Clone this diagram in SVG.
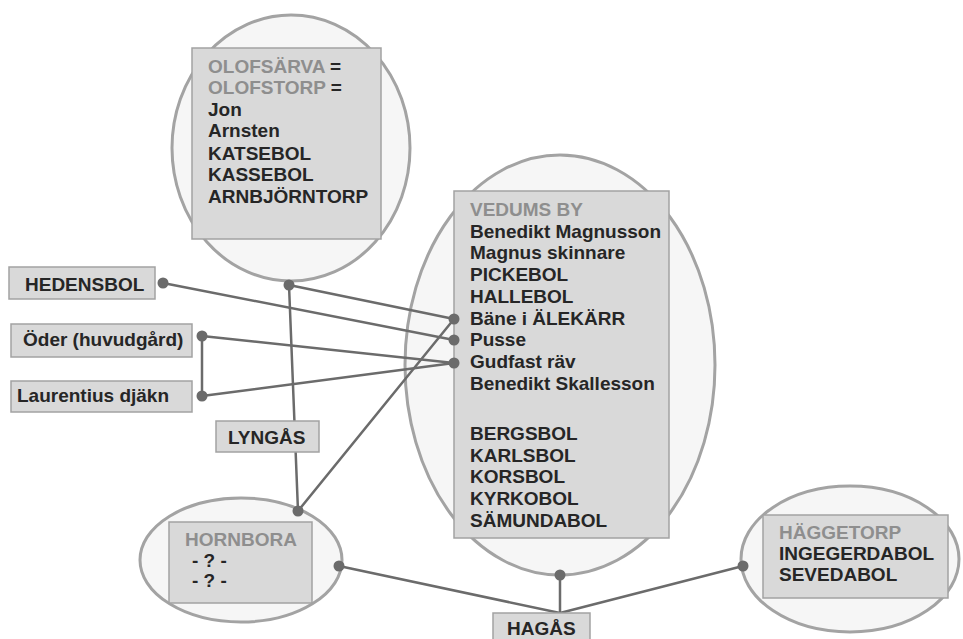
<svg xmlns="http://www.w3.org/2000/svg" width="963" height="639" viewBox="0 0 963 639">
<style>
.bg{fill:#ffffff}
.oval{fill:#f6f6f6;stroke:#a3a3a3;stroke-width:3}
.box{fill:#d9d9d9;stroke:#a2a2a2;stroke-width:1.5}
text{font-family:"Liberation Sans",Arial,sans-serif;font-weight:bold;font-size:19px;fill:#262626}
.hd{fill:#8e8e8e}
.ln{stroke:#6b6b6b;stroke-width:2.5;fill:none;stroke-linecap:round}
.dot{fill:#6b6b6b}
</style>
<rect class="bg" x="0" y="0" width="963" height="639"/>

<g id="olofsarva">
<ellipse class="oval" cx="291" cy="148" rx="119" ry="133"/>
<rect class="box" x="192" y="48" width="189" height="191"/>
<text x="208" y="72.5"><tspan class="hd">OLOFSÄRVA</tspan> =</text>
<text x="208" y="94"><tspan class="hd">OLOFSTORP</tspan> =</text>
<text x="208" y="115.5">Jon</text>
<text x="208" y="137">Arnsten</text>
<text x="208" y="159.5">KATSEBOL</text>
<text x="208" y="181">KASSEBOL</text>
<text x="208" y="203">ARNBJÖRNTORP</text>
</g>

<g id="vedum">
<ellipse class="oval" cx="560" cy="365" rx="155" ry="210"/>
<rect class="box" x="454" y="191" width="215" height="347"/>
<text x="470" y="216" class="hd">VEDUMS BY</text>
<text x="470" y="237.7">Benedikt Magnusson</text>
<text x="470" y="259.4">Magnus skinnare</text>
<text x="470" y="281">PICKEBOL</text>
<text x="470" y="302.8">HALLEBOL</text>
<text x="470" y="324.5">Bäne i ÄLEKÄRR</text>
<text x="470" y="346.2">Pusse</text>
<text x="470" y="368">Gudfast räv</text>
<text x="470" y="389.5">Benedikt Skallesson</text>
<text x="470" y="440">BERGSBOL</text>
<text x="470" y="461.7">KARLSBOL</text>
<text x="470" y="483.4">KORSBOL</text>
<text x="470" y="505">KYRKOBOL</text>
<text x="470" y="526.8">SÄMUNDABOL</text>
</g>

<g id="hornbora">
<ellipse class="oval" cx="241" cy="560" rx="101" ry="62"/>
<rect class="box" x="169" y="522" width="143" height="81"/>
<text x="185" y="546" class="hd">HORNBORA</text>
<text x="192" y="567">- ? -</text>
<text x="192" y="587">- ? -</text>
</g>

<g id="haggetorp">
<ellipse class="oval" cx="850" cy="559" rx="109" ry="73"/>
<rect class="box" x="763" y="515" width="185" height="83"/>
<text x="779" y="539" class="hd">HÄGGETORP</text>
<text x="779" y="560">INGEGERDABOL</text>
<text x="779" y="581">SEVEDABOL</text>
</g>

<g id="connectors">
<line class="ln" x1="163" y1="283" x2="454" y2="340"/>
<line class="ln" x1="289" y1="285" x2="454" y2="319"/>
<line class="ln" x1="289" y1="285" x2="298" y2="511"/>
<line class="ln" x1="202" y1="336" x2="454" y2="363"/>
<line class="ln" x1="202" y1="336" x2="202" y2="396"/>
<line class="ln" x1="202" y1="396" x2="454" y2="363"/>
<line class="ln" x1="454" y1="319" x2="298" y2="511"/>
<line class="ln" x1="339" y1="566" x2="560" y2="613"/>
<line class="ln" x1="560" y1="575" x2="560" y2="613"/>
<line class="ln" x1="560" y1="613" x2="743" y2="566"/>
<circle class="dot" cx="163" cy="283" r="5.5"/>
<circle class="dot" cx="289" cy="285" r="5.5"/>
<circle class="dot" cx="202" cy="336" r="5.5"/>
<circle class="dot" cx="202" cy="396" r="5.5"/>
<circle class="dot" cx="454" cy="319" r="5.5"/>
<circle class="dot" cx="454" cy="340" r="5.5"/>
<circle class="dot" cx="454" cy="363" r="5.5"/>
<circle class="dot" cx="298" cy="511" r="5.5"/>
<circle class="dot" cx="339" cy="566" r="5.5"/>
<circle class="dot" cx="560" cy="575" r="5.5"/>
<circle class="dot" cx="743" cy="566" r="5.5"/>
</g>

<g id="hedensbol">
<rect class="box" x="9" y="267" width="146" height="32"/>
<text x="25" y="291">HEDENSBOL</text>
</g>
<g id="oder">
<rect class="box" x="11" y="324" width="181" height="33"/>
<text x="23" y="346">Öder (huvudgård)</text>
</g>
<g id="laurentius">
<rect class="box" x="11" y="381" width="181" height="31"/>
<text x="17" y="402">Laurentius djäkn</text>
</g>
<g id="lyngas">
<rect class="box" x="216" y="421" width="103" height="31"/>
<text x="228" y="444">LYNGÅS</text>
</g>
<g id="hagas">
<rect class="box" x="493" y="613" width="97" height="30"/>
<text x="507" y="635">HAGÅS</text>
</g>
</svg>
